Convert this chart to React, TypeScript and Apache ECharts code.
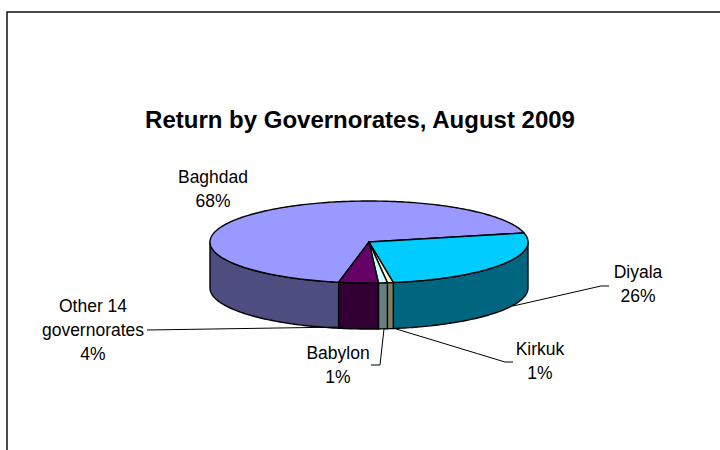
import React, { useEffect, useRef } from "react";
import * as echarts from "echarts";

// ---- data ----
const titleText = "Return by Governorates, August 2009";
const names = ["Baghdad", "Diyala", "Kirkuk", "Babylon", "Other 14\ngovernorates"];
const values = [68.4, 26.1, 0.6, 0.9, 4.0];
const topColors = ["#9999FF", "#00CCFF", "#FFFFCC", "#CCFFFF", "#660066"];
const sideColors = ["#4D4D80", "#006680", "#808066", "#668080", "#330033"];

// ---- layout (positions only) ----
const PIE = { cx: 369, cy: 242, rx: 159, ry: 41, depth: 46, startAngle: 259.0 };
const labelLayout = [
  { x: 213, y: 189, line: [] as number[][] },
  { x: 638, y: 284, line: [[513, 306], [601, 286], [609, 286]] },
  { x: 540, y: 361, line: [[393, 328], [505, 362], [513, 362]] },
  { x: 338, y: 365, line: [[384, 329], [380, 365], [371, 365]] },
  { x: 93, y: 330, line: [[147, 330], [343, 327]] },
];

const FONT = '"Liberation Sans", Arial, sans-serif';

function pt(a: number, dy: number): number[] {
  const r = (a * Math.PI) / 180;
  return [PIE.cx + PIE.rx * Math.cos(r), PIE.cy - PIE.ry * Math.sin(r) + dy];
}

function arc(from: number, to: number, dy: number): number[][] {
  const pts: number[][] = [];
  const n = Math.max(2, Math.ceil(Math.abs(from - to) / 1) + 1);
  for (let k = 0; k < n; k++) {
    const a = from + ((to - from) * k) / (n - 1);
    pts.push(pt(a, dy));
  }
  return pts;
}

export default function App() {
  const ref = useRef<HTMLDivElement>(null);
  useEffect(() => {
    if (!ref.current) return;
    const chart = echarts.init(ref.current, undefined, { renderer: "svg" });
    const total = values.reduce((s, v) => s + v, 0);

    const renderItem = (params: any, api: any) => {
      const i = params.dataIndex;
      const v = api.value(0);
      let before = 0;
      for (let k = 0; k < i; k++) before += values[k];
      const a0 = PIE.startAngle - (before / total) * 360;
      const a1 = a0 - (v / total) * 360;
      const children: any[] = [];
      // visible front wall: sin(angle) < 0
      for (let k = Math.floor(a1 / 360) - 1; k <= Math.ceil(a0 / 360) + 1; k++) {
        const lo = Math.max(a1, -180 + 360 * k);
        const hi = Math.min(a0, 360 * k);
        if (hi > lo) {
          const pts = arc(hi, lo, 0).concat(arc(lo, hi, PIE.depth));
          children.push({
            type: "polygon",
            shape: { points: pts },
            style: { fill: sideColors[i], stroke: "#000", lineWidth: 1.4, lineJoin: "round" },
          });
        }
      }
      const topPts = [[PIE.cx, PIE.cy]].concat(arc(a0, a1, 0));
      children.push({
        type: "polygon",
        shape: { points: topPts },
        style: { fill: topColors[i], stroke: "#000", lineWidth: 1.4, lineJoin: "round" },
      });
      return { type: "group", children };
    };

    const graphics: any[] = [
      {
        type: "rect",
        shape: { x: 7, y: 12, width: 900, height: 600 },
        style: { fill: "none", stroke: "#111", lineWidth: 1.5 },
        silent: true,
      },
    ];
    names.forEach((n, i) => {
      const L = labelLayout[i];
      const pct = Math.round((values[i] / total) * 100);
      if (L.line.length) {
        graphics.push({
          type: "polyline",
          shape: { points: L.line },
          style: { stroke: "#000", lineWidth: 1, fill: "none" },
          z: 10,
        });
      }
      graphics.push({
        type: "text",
        x: L.x,
        y: L.y,
        style: {
          text: n + "\n" + pct + "%",
          font: "17.5px " + FONT,
          fill: "#000",
          align: "center",
          verticalAlign: "middle",
          lineHeight: 24,
        },
        z: 10,
      });
    });

    chart.setOption({
      animation: false,
      backgroundColor: "#fff",
      title: {
        text: titleText,
        left: "center",
        top: 102,
        textStyle: { fontFamily: FONT, fontSize: 24, fontWeight: "bold", color: "#000" },
      },
      graphic: graphics,
      series: [
        {
          type: "custom",
          coordinateSystem: "none",
          renderItem,
          data: values.map((v, i) => ({ name: names[i], value: [v] })),
        },
      ],
    });
    return () => chart.dispose();
  }, []);
  return (
    <div
      ref={ref}
      style={{ position: "fixed", left: 0, top: 0, width: 720, height: 450 }}
    />
  );
}
